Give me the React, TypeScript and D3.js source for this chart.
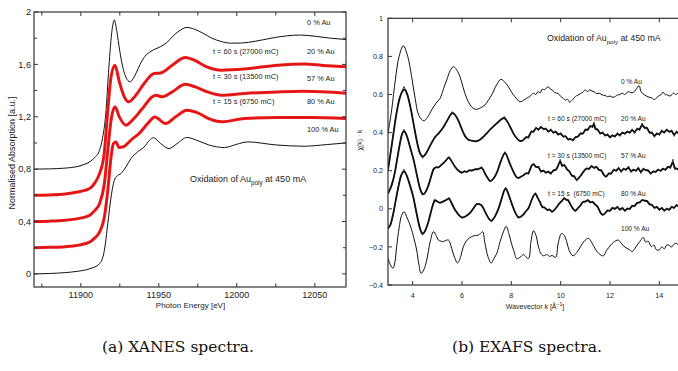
import React from "react";
import * as d3 from "d3";

// ---------- XANES (left panel) ----------
const xanes0: [number, number][] = [
  [11870, 0.8], [11880, 0.802], [11890, 0.808], [11897, 0.818], [11902, 0.835], [11906, 0.858],
  [11909, 0.89], [11912, 0.944], [11914, 1.04], [11916, 1.22], [11918, 1.58], [11920, 1.86],
  [11921.5, 1.939], [11923, 1.86], [11925, 1.7], [11927, 1.575], [11929, 1.5], [11931.5, 1.467],
  [11933.5, 1.49], [11935.5, 1.535], [11938, 1.6], [11941, 1.66], [11945, 1.7], [11951, 1.735],
  [11955, 1.765], [11959, 1.815], [11963, 1.855], [11968, 1.882], [11973, 1.868], [11978, 1.84],
  [11984, 1.8], [11990, 1.775], [11996, 1.762], [12003, 1.763], [12012, 1.777], [12022, 1.8],
  [12032, 1.818], [12041, 1.824], [12050, 1.815], [12060, 1.8], [12070, 1.79],
];
const xanes20: [number, number][] = [
  [11870, 0.6], [11880, 0.603], [11890, 0.61], [11898, 0.625], [11903, 0.64], [11906, 0.655],
  [11909, 0.695], [11912, 0.766], [11915, 0.919], [11917.3, 1.25], [11919.4, 1.505], [11921.9, 1.594],
  [11924.7, 1.467], [11927.9, 1.352], [11930.6, 1.314], [11935.3, 1.365], [11940.6, 1.454],
  [11946.9, 1.531], [11951.2, 1.535], [11958.6, 1.594], [11967, 1.653], [11973.4, 1.628],
  [11980, 1.585], [11990.4, 1.556], [12005, 1.565], [12026.4, 1.594], [12043.4, 1.602],
  [12055, 1.592], [12070, 1.582],
];
const xanes57: [number, number][] = [
  [11870, 0.4], [11880, 0.403], [11890, 0.41], [11898, 0.422], [11903, 0.435], [11906, 0.45],
  [11909, 0.485], [11912, 0.536], [11915.1, 0.689], [11917.3, 0.944], [11919.4, 1.174],
  [11921.9, 1.276], [11924.7, 1.199], [11928.9, 1.135], [11933.1, 1.174], [11939.5, 1.263],
  [11945.8, 1.352], [11948, 1.365], [11952.2, 1.352], [11958.6, 1.39], [11967, 1.448],
  [11973.4, 1.428], [11980, 1.395], [11990.4, 1.365], [12005, 1.378], [12026.4, 1.39],
  [12043, 1.395], [12070, 1.38],
];
const xanes80: [number, number][] = [
  [11870, 0.2], [11880, 0.203], [11890, 0.208], [11898, 0.218], [11903, 0.232], [11906, 0.245],
  [11909, 0.275], [11912, 0.319], [11915.1, 0.434], [11917.3, 0.638], [11919.4, 0.893],
  [11920.9, 0.995], [11922.6, 1.008], [11924.5, 0.965], [11927.5, 0.972], [11932, 1.02],
  [11938, 1.08], [11943, 1.15], [11947.4, 1.199], [11954.4, 1.148], [11960.8, 1.2],
  [11968.1, 1.25], [11975, 1.23], [11982, 1.185], [11990.4, 1.161], [12005, 1.187],
  [12026, 1.194], [12047.6, 1.194], [12070, 1.187],
];
const xanes100: [number, number][] = [
  [11870, 0.0], [11880, 0.003], [11890, 0.01], [11898, 0.02], [11905.6, 0.039], [11912, 0.077],
  [11915.1, 0.179], [11917.3, 0.383], [11919.4, 0.587], [11921.5, 0.715], [11923.5, 0.75],
  [11925.7, 0.766], [11928.9, 0.816], [11932.1, 0.88], [11936.3, 0.931], [11940.6, 0.969],
  [11944, 1.02], [11946.6, 1.04], [11951.2, 0.995], [11956.5, 0.957], [11961.7, 0.995],
  [11968, 1.042], [11973.4, 1.025], [11982, 0.985], [11992, 0.965], [12000, 0.99],
  [12007, 1.008], [12025, 0.985], [12043, 0.975], [12058, 0.988], [12070, 1.0],
];

const leftYTicks = [0, 0.4, 0.8, 1.2, 1.6, 2];
const leftYMinor = [0.2, 0.6, 1.0, 1.4, 1.8];
const leftXTicks = [11900, 11950, 12000, 12050];
const leftXMinor = [11875, 11925, 11975, 12025];

const leftCurveLabels = ["0 % Au", "20 % Au", "57 % Au", "80 % Au", "100 % Au"];
const timeLabels = ["t = 60 s (27000 mC)", "t = 30 s (13500 mC)", "t = 15 s (6750 mC)"];
const rightTimeLabels = ["t = 60 s (27000 mC)", "t = 30 s (13500 mC)", "t = 15 s  (6750 mC)"];

// ---------- EXAFS (right panel) ----------
const exafs0: [number, number][] = [
  [3.0, 0.396], [3.15, 0.52], [3.3, 0.68], [3.45, 0.8], [3.62, 0.856], [3.8, 0.8], [3.95, 0.7],
  [4.1, 0.58], [4.25, 0.49], [4.45, 0.462], [4.6, 0.48], [4.77, 0.519], [4.95, 0.555], [5.11, 0.58],
  [5.25, 0.63], [5.38, 0.676], [5.52, 0.725], [5.65, 0.746], [5.78, 0.73], [5.92, 0.693],
  [6.05, 0.635], [6.19, 0.58], [6.33, 0.545], [6.46, 0.527], [6.6, 0.522], [6.75, 0.53],
  [6.93, 0.545], [7.07, 0.57], [7.2, 0.597], [7.4, 0.65], [7.58, 0.68], [7.73, 0.665],
  [7.88, 0.641], [8.02, 0.61], [8.15, 0.588], [8.35, 0.562], [8.5, 0.57], [8.62, 0.58],
  [8.75, 0.59], [8.89, 0.606], [9.0, 0.6], [9.08, 0.615], [9.18, 0.61], [9.25, 0.628], [9.35, 0.625],
  [9.49, 0.641], [9.58, 0.628], [9.65, 0.625], [9.75, 0.61], [9.89, 0.606], [10.0, 0.59],
  [10.1, 0.58], [10.2, 0.57], [10.28, 0.575], [10.36, 0.56], [10.5, 0.575], [10.6, 0.59],
  [10.7, 0.597], [10.8, 0.605], [10.9, 0.612], [11.0, 0.625], [11.08, 0.615], [11.18, 0.624],
  [11.27, 0.618], [11.35, 0.615], [11.45, 0.605], [11.58, 0.606], [11.68, 0.598], [11.8, 0.595],
  [11.9, 0.588], [12.0, 0.592], [12.12, 0.585], [12.22, 0.59], [12.3, 0.597], [12.4, 0.6],
  [12.5, 0.607], [12.6, 0.6], [12.73, 0.615], [12.85, 0.61], [12.95, 0.612], [13.05, 0.625],
  [13.18, 0.647], [13.26, 0.615], [13.38, 0.6], [13.54, 0.588], [13.62, 0.585], [13.7, 0.582],
  [13.81, 0.573], [13.9, 0.585], [14.0, 0.595], [14.08, 0.6], [14.15, 0.612], [14.25, 0.598],
  [14.3, 0.6], [14.4, 0.592], [14.49, 0.597], [14.58, 0.608], [14.65, 0.6], [14.76, 0.606],
  [14.9, 0.6], [15, 0.605],
];
const exafs20: [number, number][] = [
  [3.0, 0.204], [3.15, 0.33], [3.3, 0.47], [3.45, 0.58], [3.65, 0.642], [3.8, 0.6], [3.95, 0.51],
  [4.1, 0.4], [4.25, 0.3], [4.4, 0.265], [4.55, 0.29], [4.7, 0.33], [4.9, 0.379], [5.05, 0.395],
  [5.17, 0.413], [5.3, 0.44], [5.45, 0.475], [5.6, 0.51], [5.72, 0.495], [5.85, 0.466],
  [6.0, 0.415], [6.12, 0.379], [6.26, 0.36], [6.4, 0.358], [6.55, 0.352], [6.73, 0.361],
  [6.87, 0.378], [7.0, 0.396], [7.17, 0.42], [7.34, 0.44], [7.5, 0.46], [7.72, 0.485],
  [7.85, 0.455], [7.95, 0.431], [8.1, 0.39], [8.22, 0.37], [8.35, 0.352],
  [8.5, 0.36], [8.6, 0.38], [8.7, 0.37], [8.8, 0.41], [8.9, 0.4], [9.0, 0.43], [9.1, 0.41],
  [9.2, 0.435], [9.3, 0.415], [9.4, 0.425], [9.5, 0.4], [9.6, 0.42], [9.7, 0.395], [9.8, 0.41],
  [9.9, 0.385], [10.0, 0.4], [10.1, 0.375], [10.2, 0.385], [10.3, 0.36], [10.4, 0.37],
  [10.5, 0.355], [10.6, 0.38], [10.7, 0.375], [10.8, 0.4], [10.9, 0.39], [11.0, 0.42],
  [11.1, 0.41], [11.2, 0.44], [11.3, 0.425], [11.35, 0.455], [11.4, 0.415], [11.5, 0.42],
  [11.6, 0.39], [11.7, 0.405], [11.8, 0.38], [11.9, 0.395], [12.0, 0.37], [12.1, 0.39],
  [12.2, 0.375], [12.3, 0.4], [12.4, 0.38], [12.5, 0.405], [12.6, 0.39], [12.7, 0.41],
  [12.8, 0.395], [12.9, 0.42], [13.0, 0.395], [13.1, 0.425], [13.2, 0.41], [13.3, 0.45],
  [13.4, 0.42], [13.5, 0.43], [13.6, 0.395], [13.7, 0.405], [13.8, 0.375], [13.9, 0.4],
  [14.0, 0.385], [14.1, 0.415], [14.2, 0.395], [14.3, 0.42], [14.4, 0.4], [14.5, 0.415],
  [14.6, 0.38], [14.7, 0.41], [14.8, 0.39], [14.9, 0.405], [15.0, 0.395],
];
const exafs57: [number, number][] = [
  [3.0, 0.08], [3.15, 0.12], [3.28, 0.186], [3.42, 0.3], [3.55, 0.39], [3.65, 0.417], [3.78, 0.38],
  [3.9, 0.32], [4.03, 0.265], [4.15, 0.19], [4.28, 0.11], [4.39, 0.072], [4.5, 0.08], [4.63, 0.116],
  [4.75, 0.17], [4.84, 0.212], [4.95, 0.22], [5.05, 0.215], [5.11, 0.225], [5.2, 0.235],
  [5.31, 0.247], [5.4, 0.262], [5.47, 0.274], [5.58, 0.25], [5.71, 0.221], [5.85, 0.2],
  [5.99, 0.186], [6.1, 0.2], [6.2, 0.19], [6.3, 0.205], [6.4, 0.198], [6.53, 0.21], [6.65, 0.205],
  [6.8, 0.221], [6.88, 0.2], [6.95, 0.18], [7.05, 0.16], [7.13, 0.142], [7.22, 0.15],
  [7.34, 0.169], [7.45, 0.2], [7.54, 0.239], [7.65, 0.275], [7.74, 0.3], [7.82, 0.28],
  [7.9, 0.25], [7.99, 0.221], [8.1, 0.19], [8.2, 0.165], [8.28, 0.16], [8.4, 0.17],
  [8.5, 0.175], [8.6, 0.19], [8.7, 0.18], [8.8, 0.225], [8.9, 0.24], [9.0, 0.215], [9.1, 0.225],
  [9.2, 0.19], [9.3, 0.205], [9.4, 0.185], [9.5, 0.2], [9.6, 0.18], [9.7, 0.205], [9.8, 0.2],
  [9.9, 0.225], [9.98, 0.26], [10.05, 0.22], [10.15, 0.235], [10.25, 0.205], [10.35, 0.2],
  [10.45, 0.17], [10.55, 0.175], [10.65, 0.145], [10.75, 0.165], [10.85, 0.18], [10.95, 0.2],
  [11.05, 0.215], [11.15, 0.205], [11.25, 0.23], [11.35, 0.21], [11.45, 0.225], [11.55, 0.2],
  [11.65, 0.205], [11.75, 0.175], [11.85, 0.165], [11.95, 0.19], [12.05, 0.18], [12.15, 0.21],
  [12.25, 0.195], [12.35, 0.22], [12.45, 0.19], [12.55, 0.215], [12.65, 0.2], [12.75, 0.225],
  [12.85, 0.19], [12.95, 0.21], [13.05, 0.195], [13.15, 0.22], [13.25, 0.185], [13.35, 0.215],
  [13.45, 0.2], [13.55, 0.205], [13.65, 0.18], [13.75, 0.2], [13.85, 0.19], [13.95, 0.21],
  [14.05, 0.195], [14.15, 0.215], [14.25, 0.2], [14.35, 0.225], [14.45, 0.21], [14.55, 0.26],
  [14.62, 0.205], [14.7, 0.215], [14.8, 0.2], [14.9, 0.215], [15.0, 0.205],
];
const exafs80: [number, number][] = [
  [3.0, -0.102], [3.1, -0.09], [3.22, -0.024], [3.35, 0.07], [3.5, 0.17], [3.65, 0.207],
  [3.78, 0.17], [3.9, 0.12], [4.03, 0.064], [4.15, -0.02], [4.28, -0.1], [4.39, -0.138],
  [4.5, -0.12], [4.63, -0.076], [4.75, -0.01], [4.88, 0.05], [4.98, 0.04], [5.11, 0.029],
  [5.25, 0.04], [5.38, 0.046], [5.47, 0.06], [5.58, 0.03], [5.71, -0.006], [5.85, -0.03],
  [5.99, -0.05], [6.15, -0.04], [6.32, -0.024], [6.45, 0.0], [6.6, 0.029], [6.7, 0.025],
  [6.8, 0.02], [6.9, -0.005], [7.0, -0.033], [7.1, -0.055], [7.2, -0.068], [7.32, -0.045],
  [7.47, -0.006], [7.6, 0.05], [7.7, 0.095], [7.77, 0.113], [7.85, 0.09], [7.93, 0.06],
  [8.01, 0.029], [8.15, -0.02], [8.28, -0.05], [8.4, -0.04],
  [8.5, -0.03], [8.6, -0.01], [8.7, 0.0], [8.8, 0.04], [8.9, 0.07], [8.98, 0.085], [9.05, 0.06],
  [9.15, 0.04], [9.25, 0.005], [9.35, 0.01], [9.45, -0.01], [9.55, 0.0], [9.65, -0.02],
  [9.75, -0.005], [9.85, 0.01], [9.95, 0.03], [10.05, 0.04], [10.15, 0.06], [10.22, 0.045],
  [10.3, 0.05], [10.4, 0.02], [10.5, 0.0], [10.6, -0.015], [10.7, 0.005], [10.8, 0.015],
  [10.9, 0.04], [11.0, 0.035], [11.1, 0.05], [11.2, 0.03], [11.3, 0.04], [11.4, 0.02],
  [11.5, 0.015], [11.6, -0.02], [11.7, -0.035], [11.8, -0.025], [11.9, -0.005], [12.0, -0.015],
  [12.1, 0.01], [12.2, -0.005], [12.3, 0.015], [12.4, -0.01], [12.5, 0.01], [12.6, -0.015],
  [12.7, 0.005], [12.8, -0.005], [12.9, 0.02], [13.0, 0.01], [13.1, 0.035], [13.2, 0.03],
  [13.3, 0.05], [13.4, 0.04], [13.5, 0.045], [13.6, 0.02], [13.7, 0.025], [13.8, 0.0],
  [13.9, 0.015], [14.0, -0.01], [14.1, 0.01], [14.2, -0.015], [14.3, 0.005], [14.4, -0.01],
  [14.5, 0.015], [14.6, 0.0], [14.7, 0.025], [14.8, 0.005], [14.9, 0.02], [15.0, 0.01],
];
const exafs100: [number, number][] = [
  [3.0, -0.26], [3.1, -0.295], [3.2, -0.312], [3.28, -0.28], [3.35, -0.2], [3.45, -0.1],
  [3.55, -0.035], [3.65, -0.015], [3.75, -0.04], [3.88, -0.08], [3.96, -0.111], [4.08, -0.17],
  [4.16, -0.216], [4.25, -0.29], [4.34, -0.339], [4.45, -0.32], [4.57, -0.269], [4.7, -0.18],
  [4.84, -0.12], [4.95, -0.14], [5.04, -0.164], [5.15, -0.17], [5.24, -0.173], [5.35, -0.165],
  [5.45, -0.164], [5.52, -0.18], [5.58, -0.208], [5.7, -0.255], [5.82, -0.285], [5.95, -0.25],
  [6.05, -0.2], [6.2, -0.165], [6.39, -0.146], [6.55, -0.14], [6.66, -0.138], [6.75, -0.13],
  [6.84, -0.12], [6.93, -0.18], [7.05, -0.25], [7.18, -0.285], [7.3, -0.26], [7.41, -0.234],
  [7.55, -0.17], [7.68, -0.12], [7.79, -0.092], [7.9, -0.13], [8.0, -0.18], [8.1, -0.22],
  [8.22, -0.262], [8.35, -0.255], [8.5, -0.24], [8.6, -0.255], [8.7, -0.26], [8.8, -0.17],
  [8.9, -0.115], [9.0, -0.14], [9.1, -0.2], [9.2, -0.235], [9.3, -0.247], [9.45, -0.24],
  [9.55, -0.25], [9.65, -0.245], [9.8, -0.255], [9.9, -0.18], [10.04, -0.129], [10.15, -0.14],
  [10.25, -0.175], [10.35, -0.22], [10.5, -0.247], [10.65, -0.23], [10.8, -0.2], [10.95, -0.17],
  [11.12, -0.155], [11.25, -0.175], [11.4, -0.21], [11.55, -0.235], [11.73, -0.247],
  [11.85, -0.22], [12.0, -0.195], [12.15, -0.175], [12.33, -0.164], [12.45, -0.18],
  [12.55, -0.195], [12.67, -0.207], [12.8, -0.215], [12.9, -0.225], [13.0, -0.21], [13.1, -0.19],
  [13.25, -0.165], [13.35, -0.15], [13.45, -0.175], [13.55, -0.17], [13.68, -0.199],
  [13.78, -0.19], [13.88, -0.215], [14.0, -0.216], [14.1, -0.2], [14.2, -0.21], [14.3, -0.19],
  [14.37, -0.19], [14.5, -0.2], [14.6, -0.185], [14.7, -0.181], [14.8, -0.195], [14.9, -0.18],
  [15, -0.185],
];

const rightYTicks = [-0.4, -0.2, 0, 0.2, 0.4, 0.6, 0.8, 1];
const rightXTicks = [4, 6, 8, 10, 12, 14];

const FONT = "'Liberation Sans', Arial, sans-serif";
const AXIS = "#333";

export default function App() {
  // left scales
  const xL = d3.scaleLinear().domain([11870, 12070]).range([34, 346]);
  const yL = d3.scaleLinear().domain([-0.1, 2]).range([287, 12]);
  // right scales
  const xR = d3.scaleLinear().domain([3, 15]).range([388, 684]);
  const yR = d3.scaleLinear().domain([-0.4, 1]).range([285, 18.3]);

  const lineL = d3.line<[number, number]>().x((d) => xL(d[0])).y((d) => yL(d[1])).curve(d3.curveMonotoneX);
  const lineR = d3.line<[number, number]>().x((d) => xR(d[0])).y((d) => yR(d[1])).curve(d3.curveCatmullRom.alpha(0.5));
  const fitR = d3.line<[number, number]>().x((d) => xR(d[0])).y((d) => yR(d[1])).curve(d3.curveBasis);
  const rawR = d3.line<[number, number]>().x((d) => xR(d[0])).y((d) => yR(d[1])).curve(d3.curveLinear);

  const fmtL = (v: number) => d3.format("")(v).replace(".", ",");
  const fmtR = d3.format("");

  const [lx0, lx1] = xL.range();
  const [ly0, ly1] = yL.range(); // 287, 12
  const [rx0, rx1] = xR.range();
  const [ry0, ry1] = yR.range();

  const leftLabelY = [25, 54, 81, 104, 132];
  const leftTimeY = [54, 78.5, 104];
  const rightLabelY = [84, 121, 158, 196, 231];
  const rightTimeY = [121, 158, 196];

  return (
    <svg width={678} height={371} style={{ position: "absolute", left: 0, top: 0, background: "#fff" }}>
      <defs>
        <clipPath id="clipL"><rect x={lx0} y={ly1} width={lx1 - lx0} height={ly0 - ly1} /></clipPath>
        <clipPath id="clipR"><rect x={rx0} y={ry1} width={rx1 - rx0} height={ry0 - ry1} /></clipPath>
      </defs>

      {/* ===== Left panel ===== */}
      <g clipPath="url(#clipL)">
        <path d={lineL(xanes0) || ""} fill="none" stroke="#111" strokeWidth={1} />
        <path d={lineL(xanes100) || ""} fill="none" stroke="#111" strokeWidth={1} />
        {[xanes20, xanes57, xanes80].map((s, i) => (
          <g key={i}>
            <path d={lineL(s) || ""} fill="none" stroke="#f01818" strokeWidth={3} />
            <path d={lineL(s) || ""} fill="none" stroke="#611" strokeWidth={0.4} opacity={0.5} />
          </g>
        ))}
      </g>
      <rect x={lx0} y={ly1} width={lx1 - lx0} height={ly0 - ly1} fill="none" stroke={AXIS} strokeWidth={1.2} />
      {leftYTicks.map((t) => (
        <g key={"ly" + t}>
          <line x1={lx0} x2={lx0 + 4} y1={yL(t)} y2={yL(t)} stroke={AXIS} />
          <line x1={lx1} x2={lx1 - 4} y1={yL(t)} y2={yL(t)} stroke={AXIS} />
          <text x={lx0 - 3} y={yL(t) + 3.3} textAnchor="end" fontFamily={FONT} fontSize={9.2} fill="#222">{fmtL(t)}</text>
        </g>
      ))}
      {leftYMinor.map((t) => (
        <g key={"lym" + t}>
          <line x1={lx0} x2={lx0 + 3} y1={yL(t)} y2={yL(t)} stroke={AXIS} />
          <line x1={lx1} x2={lx1 - 3} y1={yL(t)} y2={yL(t)} stroke={AXIS} />
        </g>
      ))}
      {leftXTicks.map((t) => (
        <g key={"lx" + t}>
          <line x1={xL(t)} x2={xL(t)} y1={ly0} y2={ly0 - 4} stroke={AXIS} />
          <line x1={xL(t)} x2={xL(t)} y1={ly1} y2={ly1 + 4} stroke={AXIS} />
          <text x={xL(t)} y={298} textAnchor="middle" fontFamily={FONT} fontSize={9} fill="#222">{t}</text>
        </g>
      ))}
      {leftXMinor.map((t) => (
        <g key={"lxm" + t}>
          <line x1={xL(t)} x2={xL(t)} y1={ly0} y2={ly0 - 3.5} stroke={AXIS} />
          <line x1={xL(t)} x2={xL(t)} y1={ly1} y2={ly1 + 3.5} stroke={AXIS} />
        </g>
      ))}
      <text x={190.5} y={308} textAnchor="middle" fontFamily={FONT} fontSize={8} fill="#222">Photon Energy [eV]</text>
      <text transform="translate(15,153) rotate(-90)" textAnchor="middle" fontFamily={FONT} fontSize={9} fill="#222">Normalised Absorption [a.u.]</text>
      <text x={190} y={182} fontFamily={FONT} fontSize={9} fill="#222">
        Oxidation of Au<tspan fontSize={6.3} dy={3}>poly</tspan><tspan dy={-3}> at 450 mA</tspan>
      </text>
      {leftCurveLabels.map((l, i) => (
        <text key={l} x={307} y={leftLabelY[i]} fontFamily={FONT} fontSize={7.4} fill="#222">{l}</text>
      ))}
      {timeLabels.map((l, i) => (
        <text key={l} x={213} y={leftTimeY[i]} fontFamily={FONT} fontSize={7.4} fill="#222">{l}</text>
      ))}

      {/* ===== Right panel ===== */}
      <g clipPath="url(#clipR)">
        <path d={lineR(exafs0) || ""} fill="none" stroke="#111" strokeWidth={1} />
        {[exafs20, exafs57, exafs80].map((s, i) => (
          <g key={i}>
            <path d={fitR(s) || ""} fill="none" stroke="#111" strokeWidth={1.8} />
            <path d={rawR(s) || ""} fill="none" stroke="#111" strokeWidth={0.8} />
          </g>
        ))}
        <path d={lineR(exafs100) || ""} fill="none" stroke="#111" strokeWidth={1} />
      </g>
      <rect x={rx0} y={ry1} width={rx1 - rx0} height={ry0 - ry1} fill="none" stroke={AXIS} strokeWidth={1.2} />
      {rightYTicks.map((t) => (
        <g key={"ry" + t}>
          <line x1={rx0} x2={rx0 + 4} y1={yR(t)} y2={yR(t)} stroke={AXIS} />
          <text x={383} y={yR(t) + 2.6} textAnchor="end" fontFamily={FONT} fontSize={7.2} fill="#222">{fmtR(t)}</text>
        </g>
      ))}
      {rightXTicks.map((t) => (
        <g key={"rx" + t}>
          <line x1={xR(t)} x2={xR(t)} y1={ry0} y2={ry0 - 4} stroke={AXIS} />
          <line x1={xR(t)} x2={xR(t)} y1={ry1} y2={ry1 + 4} stroke={AXIS} />
          <text x={xR(t)} y={297.5} textAnchor="middle" fontFamily={FONT} fontSize={7.2} fill="#222">{t}</text>
        </g>
      ))}
      <text x={535} y={309} textAnchor="middle" fontFamily={FONT} fontSize={7} fill="#222">
        Wavevector k [Å<tspan fontSize={5} dy={-3}>−1</tspan><tspan dy={3}>]</tspan>
      </text>
      <text transform="translate(362,140) rotate(-90)" textAnchor="middle" fontFamily={FONT} fontSize={6.8} fill="#222">χ(k) · k</text>
      <text x={547} y={40.5} fontFamily={FONT} fontSize={8.8} fill="#222">
        Oxidation of Au<tspan fontSize={6.2} dy={3}>poly</tspan><tspan dy={-3}> at 450 mA</tspan>
      </text>
      {leftCurveLabels.map((l, i) => (
        <text key={"r" + l} x={621} y={rightLabelY[i]} fontFamily={FONT} fontSize={6.6} fill="#222">{l}</text>
      ))}
      {rightTimeLabels.map((l, i) => (
        <text key={"r" + l} x={548} y={rightTimeY[i]} fontFamily={FONT} fontSize={6.6} fill="#222" style={{ whiteSpace: "pre" }}>{l}</text>
      ))}

      {/* captions */}
      <text x={178} y={352} textAnchor="middle" fontFamily="'DejaVu Serif', serif" fontSize={15.5} fill="#111">(a) XANES spectra.</text>
      <text x={527} y={352} textAnchor="middle" fontFamily="'DejaVu Serif', serif" fontSize={15.5} fill="#111">(b) EXAFS spectra.</text>
    </svg>
  );
}
